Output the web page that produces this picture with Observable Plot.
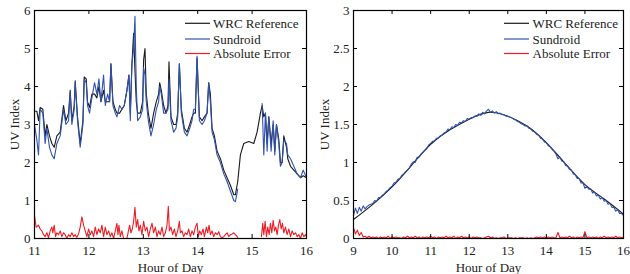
<!DOCTYPE html>
<html><head><meta charset="utf-8">
<script src="https://cdn.jsdelivr.net/npm/d3@7"></script>
<script src="https://cdn.jsdelivr.net/npm/@observablehq/plot@0.6"></script>
<style>
html,body{margin:0;padding:0;background:#fff;}
#wrap{position:relative;width:630px;height:274px;overflow:hidden;font-family:"Liberation Serif","Times New Roman",serif;}
#wrap > svg, #wrap > figure{position:absolute;top:0;margin:0;}
</style></head>
<body><div id="wrap"></div>
<script>
// ---------- Left panel data ----------
const leftHours = [11.000,11.043,11.074,11.104,11.153,11.196,11.227,11.276,11.319,11.362,11.411,11.472,11.534,11.577,11.626,11.656,11.687,11.730,11.748,11.791,11.840,11.890,11.914,11.951,11.975,12.012,12.055,12.104,12.147,12.184,12.221,12.270,12.301,12.344,12.380,12.405,12.442,12.485,12.515,12.564,12.607,12.650,12.699,12.736,12.761,12.791,12.822,12.847,12.871,12.896,12.945,12.988,13.006,13.031,13.055,13.092,13.141,13.190,13.239,13.282,13.301,13.331,13.374,13.417,13.454,13.472,13.509,13.558,13.601,13.632,13.663,13.699,13.755,13.804,13.853,13.896,13.926,13.957,13.988,14.031,14.080,14.123,14.172,14.202,14.233,14.264,14.307,14.356,14.417,14.479,14.540,14.601,14.663,14.693,14.736,14.785,14.847,14.939,15.031,15.092,15.153,15.184,15.215,15.245,15.276,15.307,15.350,15.387,15.417,15.448,15.491,15.521,15.552,15.583,15.632,15.656,15.706,15.767,15.828,15.890,15.939,16.000];
const leftRef = [3.35,3.35,3.1,3.45,3.4,2.7,3.0,2.7,2.5,2.4,2.7,2.8,3.5,3.1,3.3,3.9,3.1,3.5,4.15,3.2,2.5,3.1,4.25,4.2,3.6,3.45,3.8,3.8,3.7,4.0,3.6,3.9,3.6,3.6,3.6,4.6,3.6,3.4,3.3,3.3,3.4,3.5,3.9,4.3,3.3,4.6,5.4,4.4,3.6,3.3,3.3,3.6,4.7,5.0,3.8,3.3,2.9,3.3,3.6,3.8,4.1,3.9,3.5,3.3,3.5,4.65,3.2,3.0,3.0,3.3,4.6,3.4,2.9,2.8,3.0,3.2,3.3,3.3,4.75,3.2,3.1,3.2,3.3,4.1,3.8,2.9,2.7,2.3,2.1,1.8,1.6,1.4,1.15,1.15,1.5,2.2,2.5,2.55,2.5,2.8,3.3,3.5,3.2,3.3,2.5,3.2,2.5,3.0,2.3,3.0,2.6,2.0,2.0,2.7,2.4,2.1,1.9,1.8,1.7,1.6,1.65,1.6];
const leftSun = [3.0,2.6,2.2,3.4,3.3,2.5,2.9,2.4,2.2,2.1,2.5,2.7,3.4,3.0,3.1,3.85,3.0,3.4,4.1,3.1,2.4,3.0,4.2,4.1,3.5,3.3,3.7,4.1,3.8,4.2,3.6,4.3,3.5,3.8,3.6,4.6,3.5,3.3,3.2,3.5,3.4,3.5,3.9,4.3,3.1,4.6,5.0,5.85,4.0,3.1,3.2,3.4,4.5,4.3,3.6,3.1,2.7,3.0,3.4,3.6,4.0,3.8,3.3,3.3,3.4,4.2,3.1,2.8,2.9,3.2,4.6,3.3,2.8,2.7,2.9,3.1,3.4,3.4,4.8,3.1,3.0,3.1,3.3,4.1,3.6,2.8,2.6,2.2,2.0,1.7,1.5,1.25,1.0,0.97,1.3,null,null,null,null,null,null,3.55,2.2,3.3,2.3,3.2,2.3,3.1,2.2,3.0,2.5,1.9,2.0,2.6,2.5,2.2,2.1,1.9,1.7,1.6,1.8,1.6];
const leftErrHours = [11.000,11.031,11.074,11.104,11.135,11.166,11.196,11.227,11.258,11.288,11.319,11.337,11.362,11.387,11.411,11.442,11.472,11.503,11.534,11.564,11.595,11.626,11.656,11.687,11.718,11.748,11.779,11.810,11.840,11.871,11.902,11.933,11.963,11.994,12.025,12.055,12.086,12.117,12.147,12.178,12.209,12.239,12.270,12.301,12.331,12.362,12.393,12.423,12.454,12.485,12.515,12.534,12.552,12.577,12.607,12.638,12.699,12.748,12.773,12.798,12.822,12.847,12.871,12.896,12.920,12.945,12.975,13.006,13.037,13.067,13.098,13.129,13.160,13.190,13.221,13.252,13.282,13.313,13.344,13.374,13.405,13.436,13.460,13.479,13.509,13.540,13.571,13.601,13.632,13.663,13.681,13.712,13.742,13.773,13.804,13.834,13.865,13.896,13.926,13.957,13.988,14.012,14.037,14.067,14.098,14.123,14.160,14.184,14.209,14.233,14.264,14.294,14.325,14.356,14.387,14.417,14.448,14.479,14.509,14.540,14.571,14.601,14.632,14.663,14.693,14.724,14.736,14.950,15.172,15.196,15.215,15.239,15.264,15.288,15.313,15.337,15.362,15.387,15.411,15.436,15.460,15.485,15.509,15.534,15.558,15.583,15.613,15.644,15.675,15.706,15.736,15.767,15.798,15.828,15.859,15.890,15.920,15.951,15.982,16.000];
const leftErr = [0.6,0.3,0.35,0.25,0.2,0.1,0.05,0.15,0.02,0.2,0.3,0.15,0.35,0.05,0.15,0.1,0.2,0.05,0.15,0.1,0.0,0.1,0.05,0.15,0.05,0.1,0.03,0.12,0.3,0.57,0.35,0.2,0.05,0.25,0.1,0.2,0.05,0.3,0.1,0.25,0.15,0.35,0.05,0.3,0.1,0.2,0.05,0.15,0.0,0.2,0.4,0.1,0.35,0.05,0.2,0.0,0.0,0.35,0.15,0.25,0.45,0.82,0.3,0.5,0.2,0.35,0.1,0.45,0.2,0.3,0.05,0.25,0.4,0.15,0.3,0.05,0.2,0.1,0.3,0.05,0.15,0.35,0.85,0.2,0.3,0.1,0.25,0.05,0.2,0.45,0.15,0.2,0.05,0.15,0.1,0.25,0.05,0.2,0.1,0.3,0.4,0.05,0.2,0.1,0.25,0.05,0.3,0.15,0.35,0.1,0.2,0.05,0.15,0.1,0.18,0.05,0.02,0.05,0.1,0.15,0.05,0.1,0.12,0.15,0.1,0.05,0.02,null,0.05,0.4,0.1,0.45,0.05,0.3,0.1,0.4,0.15,0.48,0.2,0.3,0.1,0.35,0.5,0.25,0.4,0.15,0.3,0.1,0.25,0.05,0.2,0.1,0.15,0.05,0.1,0.0,0.15,0.05,0.1,0.05];

// ---------- Right panel data ----------
const rightRefHours = [9.0,9.5,10.0,10.5,11.0,11.5,12.0,12.5,13.0,13.5,14.0,14.5,15.0,15.5,16.0];
const rightRef = [0.25,0.45,0.68,0.96,1.24,1.43,1.57,1.66,1.61,1.48,1.26,0.98,0.71,0.52,0.32];
const rightSampleStep = 0.05; // sampling grid of the Sundroid record, 9:00 to 16:00
const rightSun = [0.30,0.40,0.33,0.41,0.36,0.43,0.39,0.42,0.44,0.45,0.46,0.50,0.49,0.54,0.54,0.57,0.59,0.62,0.64,0.67,0.69,0.73,0.74,0.78,0.79,0.83,0.85,0.88,0.90,0.93,0.98,1.01,1.00,1.07,1.07,1.11,1.13,1.16,1.18,1.23,1.25,1.28,1.28,1.32,1.32,1.35,1.36,1.39,1.40,1.44,1.43,1.47,1.46,1.50,1.49,1.53,1.52,1.55,1.54,1.58,1.57,1.59,1.59,1.61,1.61,1.64,1.62,1.66,1.64,1.68,1.70,1.66,1.68,1.65,1.67,1.64,1.65,1.63,1.63,1.61,1.61,1.60,1.59,1.57,1.56,1.54,1.53,1.51,1.50,1.48,1.48,1.45,1.44,1.41,1.40,1.37,1.36,1.32,1.31,1.27,1.26,1.22,1.21,1.17,1.15,1.11,1.05,1.07,1.02,1.01,0.96,0.95,0.91,0.90,0.85,0.84,0.79,0.79,0.73,0.73,0.66,0.69,0.65,0.65,0.60,0.61,0.56,0.57,0.52,0.54,0.49,0.50,0.45,0.46,0.41,0.41,0.36,0.38,0.33,0.33,0.30];
const rightErr = [0.14,0.06,0.11,0.04,0.08,0.02,0.03,0.01,0.03,0.01,0.02,0.01,0.02,0.00,0.02,0.01,0.02,0.01,0.03,0.00,0.02,0.01,0.02,0.01,0.01,0.00,0.02,0.01,0.03,0.01,0.02,0.01,0.03,0.01,0.02,0.00,0.02,0.01,0.02,0.01,0.03,0.01,0.02,0.00,0.02,0.01,0.02,0.01,0.03,0.01,0.02,0.01,0.03,0.00,0.02,0.01,0.03,0.01,0.02,0.01,0.02,0.00,0.02,0.01,0.02,0.01,0.01,0.00,0.01,0.02,0.03,0.01,0.02,0.00,0.01,0.00,0.01,0.01,0.02,0.00,0.01,0.01,0.01,0.00,0.01,0.00,0.01,0.01,0.01,0.00,0.01,0.00,0.01,0.00,0.01,0.02,0.01,0.02,0.01,0.02,0.01,0.02,0.01,0.02,0.01,0.01,0.08,0.01,0.02,0.01,0.02,0.01,0.03,0.01,0.02,0.00,0.02,0.01,0.02,0.01,0.09,0.01,0.02,0.01,0.02,0.01,0.02,0.00,0.02,0.01,0.03,0.01,0.02,0.01,0.02,0.01,0.03,0.01,0.02,0.01,0.02];

// ---------- Ticks / labels ----------
const leftXTicks = [11,12,13,14,15,16];
const leftYTicks = [0,1,2,3,4,5,6];
const rightXTicks = [9,10,11,12,13,14,15,16];
const rightYTicks = [0,0.5,1,1.5,2,2.5,3];
const seriesNames = ["WRC Reference","Sundroid","Absolute Error"];
const seriesColors = ["#1a1a1a","#2f52b0","#ee1c24"];
const xLabel = "Hour of Day", yLabel = "UV Index";

const W = 315, H = 274, MT = 10, MB = 36;
const innerH = H - MT - MB;
const FONT = '"Liberation Serif","Times New Roman",serif';

function zip(xs, ys){ const n = Math.min(xs.length, ys.length); return d3.range(n).map(i => ({x: xs[i], y: ys[i]})); }
function grid(start, n){ return d3.range(n).map(i => +(start + i*rightSampleStep).toFixed(2)); }

function panel(o){
  const innerW = W - o.ml - o.mr;
  return Plot.plot({
    width: W, height: H, marginTop: MT, marginBottom: MB, marginLeft: o.ml, marginRight: o.mr,
    style: {fontFamily: FONT, fontSize: "13px", color: "#222", background: "white", overflow: "visible"},
    x: {domain: o.xDomain},
    y: {domain: o.yDomain},
    marks: [
      Plot.line(o.ref, {x: "x", y: "y", stroke: seriesColors[0], strokeWidth: 1.1, curve: o.refCurve || "linear"}),
      Plot.line(o.sun, {x: "x", y: "y", stroke: seriesColors[1], strokeWidth: 1.1}),
      Plot.line(o.err, {x: "x", y: "y", stroke: seriesColors[2], strokeWidth: 1.1}),
      Plot.tickX(o.xTicks, {x: d => d, insetTop: innerH - 4, stroke: "#000"}),
      Plot.tickX(o.xTicks, {x: d => d, insetBottom: innerH - 4, stroke: "#000"}),
      Plot.tickY(o.yTicks, {y: d => d, insetRight: innerW - 4, stroke: "#000"}),
      Plot.tickY(o.yTicks, {y: d => d, insetLeft: innerW - 4, stroke: "#000"}),
      Plot.frame({stroke: "#000", strokeWidth: 1.2}),
      Plot.axisX(o.xTicks, {tickSize: 0, tickPadding: 7, fontSize: 13, fontFamily: FONT, tickFormat: d => String(d), label: xLabel, labelAnchor: "center", labelArrow: "none", labelOffset: 33, fill: "#222"}),
      Plot.axisY(o.yTicks, {tickSize: 0, tickPadding: 4, fontSize: 13, fontFamily: FONT, tickFormat: d => String(d), label: yLabel, labelAnchor: "center", labelArrow: "none", labelOffset: o.labelOffset, fill: "#222"})
    ]
  });
}

const wrap = document.getElementById("wrap");
const left = panel({
  ml: 34, mr: 9, xDomain: [11,16], yDomain: [0,6], xTicks: leftXTicks, yTicks: leftYTicks, labelOffset: 25,
  ref: zip(leftHours, leftRef), sun: zip(leftHours, leftSun), err: zip(leftErrHours, leftErr)
});
left.style.left = "0px";
wrap.appendChild(left);

const right = panel({
  ml: 38, mr: 7, xDomain: [9,16], yDomain: [0,3], xTicks: rightXTicks, yTicks: rightYTicks, labelOffset: 34, refCurve: "natural",
  ref: zip(rightRefHours, rightRef), sun: zip(grid(9, rightSun.length), rightSun), err: zip(grid(9, rightErr.length), rightErr)
});
right.style.left = "315px";
wrap.appendChild(right);

// Legends (inside each panel, top-right)
const ns = "http://www.w3.org/2000/svg";
const leg = document.createElementNS(ns, "svg");
leg.setAttribute("width", 630); leg.setAttribute("height", 274);
leg.style.position = "absolute"; leg.style.left = "0"; leg.style.top = "0"; leg.style.pointerEvents = "none";
const rowsY = [23.3, 39, 53.5];
[[185, 210, 213], [504, 529, 532.5]].forEach(([x1, x2, tx]) => {
  seriesNames.forEach((name, i) => {
    const l = document.createElementNS(ns, "line");
    l.setAttribute("x1", x1); l.setAttribute("x2", x2); l.setAttribute("y1", rowsY[i]); l.setAttribute("y2", rowsY[i]);
    l.setAttribute("stroke", seriesColors[i]); l.setAttribute("stroke-width", 1.2);
    leg.appendChild(l);
    const t = document.createElementNS(ns, "text");
    t.setAttribute("x", tx); t.setAttribute("y", rowsY[i]); t.setAttribute("dy", "0.35em");
    t.setAttribute("font-family", FONT); t.setAttribute("font-size", 13); t.setAttribute("fill", "#222");
    t.textContent = name;
    leg.appendChild(t);
  });
});
wrap.appendChild(leg);
</script></body></html>
